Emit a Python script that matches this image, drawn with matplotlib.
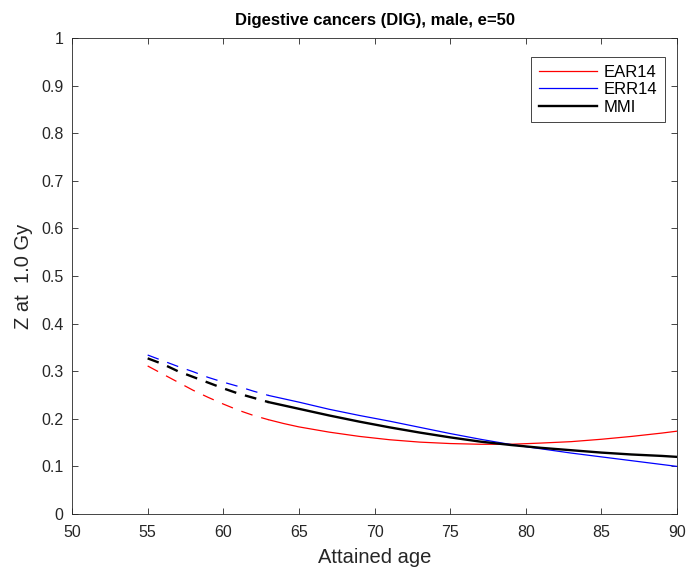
import matplotlib
matplotlib.use('Agg')
import matplotlib.pyplot as plt

plt.rcParams['font.family'] = ['Liberation Sans', 'DejaVu Sans']
plt.rcParams['lines.scale_dashes'] = False

# attained age and Z values at 1.0 Gy
ages = [55, 56, 57, 58, 59, 60, 61, 62, 63, 64, 65, 67, 69, 71, 73, 75, 77, 79,
        81, 83, 85, 87, 89, 90]
ear14 = [0.311, 0.294, 0.277, 0.260, 0.245, 0.231, 0.218, 0.207, 0.198, 0.190,
         0.183, 0.172, 0.163, 0.156, 0.151, 0.148, 0.1465, 0.1465, 0.149, 0.152,
         0.157, 0.163, 0.170, 0.174]
err14 = [0.334, 0.322, 0.310, 0.299, 0.287, 0.277, 0.268, 0.258, 0.249, 0.242,
         0.235, 0.220, 0.207, 0.195, 0.182, 0.169, 0.157, 0.146, 0.137, 0.128,
         0.120, 0.112, 0.104, 0.100]
mmi = [0.327, 0.315, 0.300, 0.288, 0.276, 0.264, 0.253, 0.244, 0.235, 0.228,
       0.221, 0.207, 0.194, 0.182, 0.171, 0.161, 0.152, 0.145, 0.139, 0.134,
       0.129, 0.125, 0.122, 0.120]
split = 8  # index of age 63: dashed before, solid after

series = [('EAR14', ear14, 'red', 0.9),
          ('ERR14', err14, 'blue', 0.9),
          ('MMI', mmi, 'black', 1.7)]

fig = plt.figure(figsize=(6.88, 5.72), dpi=100)
ax = fig.add_axes([0.1047, 0.1014, 0.8793, 0.8322])

for name, vals, col, lw in series:
    ax.plot(ages[:split + 1], vals[:split + 1], color=col, lw=lw, dashes=(8.5, 6.5))
    ax.plot(ages[split:], vals[split:], color=col, lw=lw, label=name)

ax.set_xlim(50, 90)
ax.set_ylim(0, 1)
ax.set_xticks(range(50, 91, 5))
ax.set_yticks([i / 10 for i in range(11)])
ax.set_yticklabels(['0', '0.1', '0.2', '0.3', '0.4', '0.5', '0.6', '0.7', '0.8', '0.9', '1'])
ax.tick_params(direction='in', top=True, right=True, labelsize=11.5, length=4.5,
               width=0.6, colors='#262626', labelcolor='#262626')
ax.tick_params(axis='x', pad=8)
ax.tick_params(axis='y', pad=6)
for s in ax.spines.values():
    s.set_linewidth(0.6)
    s.set_color('#262626')

ax.set_xlabel('Attained age', fontsize=14.5, color='#262626', labelpad=6)
ax.set_ylabel('Z at  1.0 Gy', fontsize=14.5, color='#262626', labelpad=6)
ax.set_title('Digestive cancers (DIG), male, e=50', fontsize=12, fontweight='bold', pad=9)

# legend box in the upper right corner
leg = ax.legend(loc='upper right', bbox_to_anchor=(0.980, 0.960), fontsize=12,
                fancybox=False, edgecolor='#262626', handlelength=3.5,
                borderpad=0.45, labelspacing=0.15, handletextpad=0.4,
                borderaxespad=0, framealpha=1)
leg.get_frame().set_linewidth(0.6)

fig.savefig('out.png', dpi=100)
